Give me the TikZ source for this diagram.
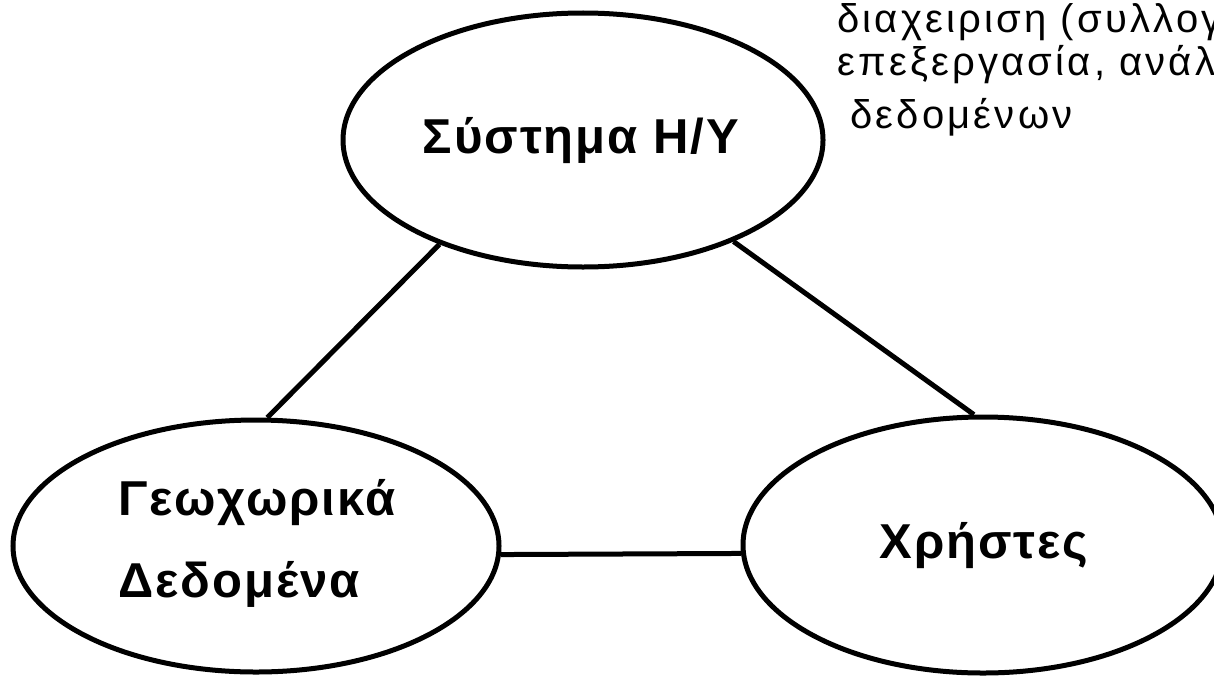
\documentclass[tikz,border=0pt]{standalone}
\usepackage{fontspec}
\setmainfont{Liberation Sans}
\newfontfamily\labelfont[LetterSpace=4]{Liberation Sans}
\newfontfamily\notefont[LetterSpace=8]{Liberation Sans}
\usetikzlibrary{shapes.geometric}
\tikzset{
  blob/.style={draw, ellipse, line width=5pt, inner sep=0pt},
  blobtext/.style={inner sep=0pt, align=left,
    font=\labelfont\bfseries\fontsize{49}{82}\selectfont},
  conn/.style={line width=5pt},
  note/.style={anchor=base west, inner sep=0pt,
    font=\notefont\fontsize{40}{42}\selectfont}
}
\begin{document}
\begin{tikzpicture}[x=1pt, y=-1pt]
  \useasboundingbox (0,0) rectangle (1214,677);

  % the three parts of the system
  \node[blob, minimum width=480pt, minimum height=254pt] (sys) at (583,140) {};
  \node[blob, minimum width=486pt, minimum height=252pt] (geo) at (256,546) {};
  \node[blob, minimum width=480pt, minimum height=256pt] (usr) at (983,545) {};

  % their captions
  \node[blobtext, anchor=base] (sysT) at (581,153) {Σύστημα Η/Υ};
  \node[blobtext, anchor=base west] (geoT1) at (118,515) {Γεωχωρικά};
  \node[blobtext, anchor=base west] (geoT2) at (118,597) {Δεδομένα};
  \node[blobtext, anchor=base] (usrT) at (984,558) {Χρήστες};

  % links between them
  \draw[conn] (sys.216.3) -- (geo.85);
  \draw[conn] (sys.-34.6) -- (usr.94.8);
  \draw[conn] (geo.-2.4) -- (usr.182.6);

  % side note
  \node[note] (n1) at (837,33) {διαχειριση (συλλογ};
  \node[note] (n2) at (837,75) {επεξεργασία, ανάλ};
  \node[note] (n3) at (850,128) {δεδομένων};
\end{tikzpicture}
\end{document}
